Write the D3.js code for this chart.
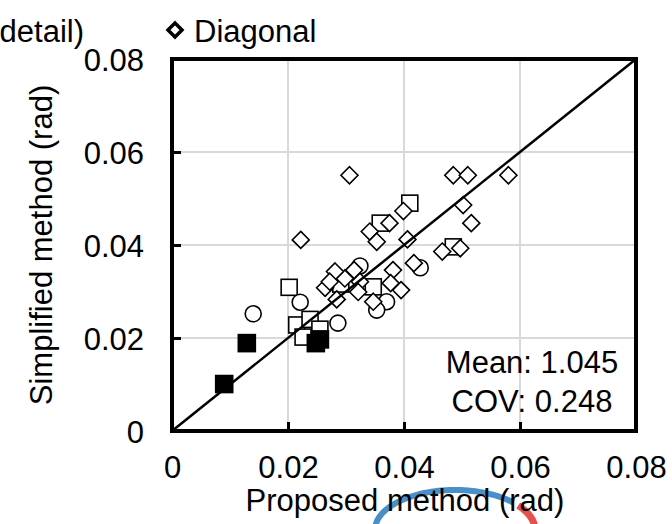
<!DOCTYPE html>
<html>
<head>
<meta charset="utf-8">
<script src="https://cdn.jsdelivr.net/npm/d3@7"></script>
<style>
  html, body { margin: 0; padding: 0; background: #fff; }
  svg { display: block; font-family: "Liberation Sans", Arial, sans-serif; }
</style>
</head>
<body>
<svg id="chart" width="672" height="524"></svg>
<script>
// Drift ratios (rad): proposed method (x) vs simplified method (y)
const openSquares = [
  [0.0202, 0.0309], [0.0215, 0.0228], [0.0238, 0.0240], [0.0226, 0.0202],
  [0.0255, 0.0219], [0.0347, 0.0310], [0.0359, 0.0447], [0.0410, 0.0490],
  [0.0485, 0.0396], [0.0291, 0.0316]
];
const openCircles = [
  [0.0140, 0.0252], [0.0221, 0.0277], [0.0286, 0.0232], [0.0324, 0.0355],
  [0.0370, 0.0278], [0.0353, 0.0260], [0.0428, 0.0351]
];
const diagonalPts = [
  [0.0306, 0.0550], [0.0485, 0.0550], [0.0510, 0.0550], [0.0580, 0.0550],
  [0.0502, 0.0486], [0.0516, 0.0447], [0.0399, 0.0473], [0.0375, 0.0447],
  [0.0341, 0.0429], [0.0353, 0.0407], [0.0406, 0.0412], [0.0466, 0.0386],
  [0.0497, 0.0393], [0.0417, 0.0361], [0.0381, 0.0346], [0.0377, 0.0318],
  [0.0395, 0.0303], [0.0324, 0.0321], [0.0314, 0.0346], [0.0298, 0.0328],
  [0.0281, 0.0343], [0.0321, 0.0299], [0.0222, 0.0411], [0.0264, 0.0308],
  [0.0284, 0.0283], [0.0272, 0.0321], [0.0347, 0.0278]
];
const filledSquares = [
  [0.0090, 0.0101], [0.0129, 0.0189], [0.0248, 0.0189], [0.0255, 0.0197]
];
const tickValues = [0, 0.02, 0.04, 0.06, 0.08];
const statsLines = ["Mean: 1.045", "COV: 0.248"];

const svg = d3.select("#chart");
const FONT = 31;
const plot = { left: 172, right: 636, top: 59, bottom: 431 };

const x = d3.scaleLinear().domain([0, 0.08]).range([plot.left, plot.right]);
const y = d3.scaleLinear().domain([0, 0.08]).range([plot.bottom, plot.top]);

// faint logo behind the axis title
const logo = svg.append("g").attr("fill", "none").attr("opacity", 0.85);
const arcPt = (a) => [455 + 80 * Math.cos(a), 530 - 40 * Math.sin(a)];
const arcPath = (a0, a1) => d3.range(0, 1.0001, 0.02).map(t => arcPt(a0 + (a1 - a0) * t));
logo.append("path").attr("d", d3.line()(arcPath(Math.PI * 0.98, Math.PI * 0.24)))
  .attr("stroke", "#2b7cc0").attr("stroke-width", 6);
logo.append("path").attr("d", d3.line()(arcPath(Math.PI * 0.21, Math.PI * 0.02)))
  .attr("stroke", "#e2332e").attr("stroke-width", 7);

// gridlines
const grid = svg.append("g").attr("stroke", "#d9d9d9").attr("stroke-width", 2);
tickValues.slice(1, -1).forEach(v => {
  grid.append("line").attr("x1", x(v)).attr("x2", x(v)).attr("y1", y(0)).attr("y2", y(0.08));
  grid.append("line").attr("x1", x(0)).attr("x2", x(0.08)).attr("y1", y(v)).attr("y2", y(v));
});

// markers
const mk = svg.append("g").attr("stroke", "#000").attr("stroke-width", 1.6);
const sq = 16, circR = 8, dia = 8.5;
mk.selectAll("rect.open").data(openSquares).join("rect")
  .attr("x", d => x(d[0]) - sq / 2).attr("y", d => y(d[1]) - sq / 2)
  .attr("width", sq).attr("height", sq).attr("fill", "#fff");
mk.selectAll("circle").data(openCircles).join("circle")
  .attr("cx", d => x(d[0])).attr("cy", d => y(d[1])).attr("r", circR).attr("fill", "#fff");
mk.selectAll("path.dia").data(diagonalPts).join("path")
  .attr("d", d => `M${x(d[0])},${y(d[1]) - dia}L${x(d[0]) + dia},${y(d[1])}L${x(d[0])},${y(d[1]) + dia}L${x(d[0]) - dia},${y(d[1])}Z`)
  .attr("fill", "#fff");
mk.selectAll("rect.filled").data(filledSquares).join("rect")
  .attr("x", d => x(d[0]) - 8.5).attr("y", d => y(d[1]) - 8.5)
  .attr("width", 17).attr("height", 17).attr("fill", "#000");

// 1:1 line
svg.append("line")
  .attr("x1", x(0)).attr("y1", y(0)).attr("x2", x(0.08)).attr("y2", y(0.08))
  .attr("stroke", "#000").attr("stroke-width", 2.5);

// axes: inward ticks, labels outside
const fmt = d => d === 0 ? "0" : d3.format(".2f")(d);
const xAxis = svg.append("g").attr("transform", `translate(0,${plot.bottom})`)
  .call(d3.axisBottom(x).tickValues(tickValues).tickSize(-9).tickPadding(0).tickFormat(fmt));
const yAxis = svg.append("g").attr("transform", `translate(${plot.left},0)`)
  .call(d3.axisLeft(y).tickValues(tickValues).tickSize(-9).tickPadding(0).tickFormat(fmt));
[xAxis, yAxis].forEach(a => {
  a.select(".domain").remove();
  a.selectAll(".tick line").attr("stroke", "#000").attr("stroke-width", 3);
  a.selectAll(".tick text").attr("font-size", FONT).attr("fill", "#000")
    .attr("font-family", "Liberation Sans, Arial, sans-serif");
});
xAxis.selectAll(".tick text").attr("y", 47).attr("dy", 0);
yAxis.selectAll(".tick text").attr("x", -28).attr("dy", "0.36em");

// frame
svg.append("rect")
  .attr("x", plot.left).attr("y", plot.top)
  .attr("width", plot.right - plot.left).attr("height", plot.bottom - plot.top)
  .attr("fill", "none").attr("stroke", "#000").attr("stroke-width", 4);

// axis titles
svg.append("text").attr("x", 405).attr("y", 511).attr("text-anchor", "middle")
  .attr("font-size", FONT).text("Proposed method (rad)");
svg.append("text").attr("transform", "translate(52,245) rotate(-90)").attr("text-anchor", "middle")
  .attr("font-size", FONT).text("Simplified method (rad)");

// statistics
svg.selectAll("text.stat").data(statsLines).join("text")
  .attr("x", 532).attr("y", (d, i) => 373 + i * 39).attr("text-anchor", "middle")
  .attr("font-size", FONT).text(d => d);

// legend (partially visible)
svg.append("text").attr("x", 84).attr("y", 42).attr("text-anchor", "end")
  .attr("font-size", FONT).text("detail)");
const lx = 175, ly = 30, ld = 7;
svg.append("path")
  .attr("d", `M${lx},${ly - ld}L${lx + ld},${ly}L${lx},${ly + ld}L${lx - ld},${ly}Z`)
  .attr("fill", "#fff").attr("stroke", "#000").attr("stroke-width", 3.5);
svg.append("text").attr("x", 194).attr("y", 42).attr("font-size", FONT).text("Diagonal");
</script>
</body>
</html>
